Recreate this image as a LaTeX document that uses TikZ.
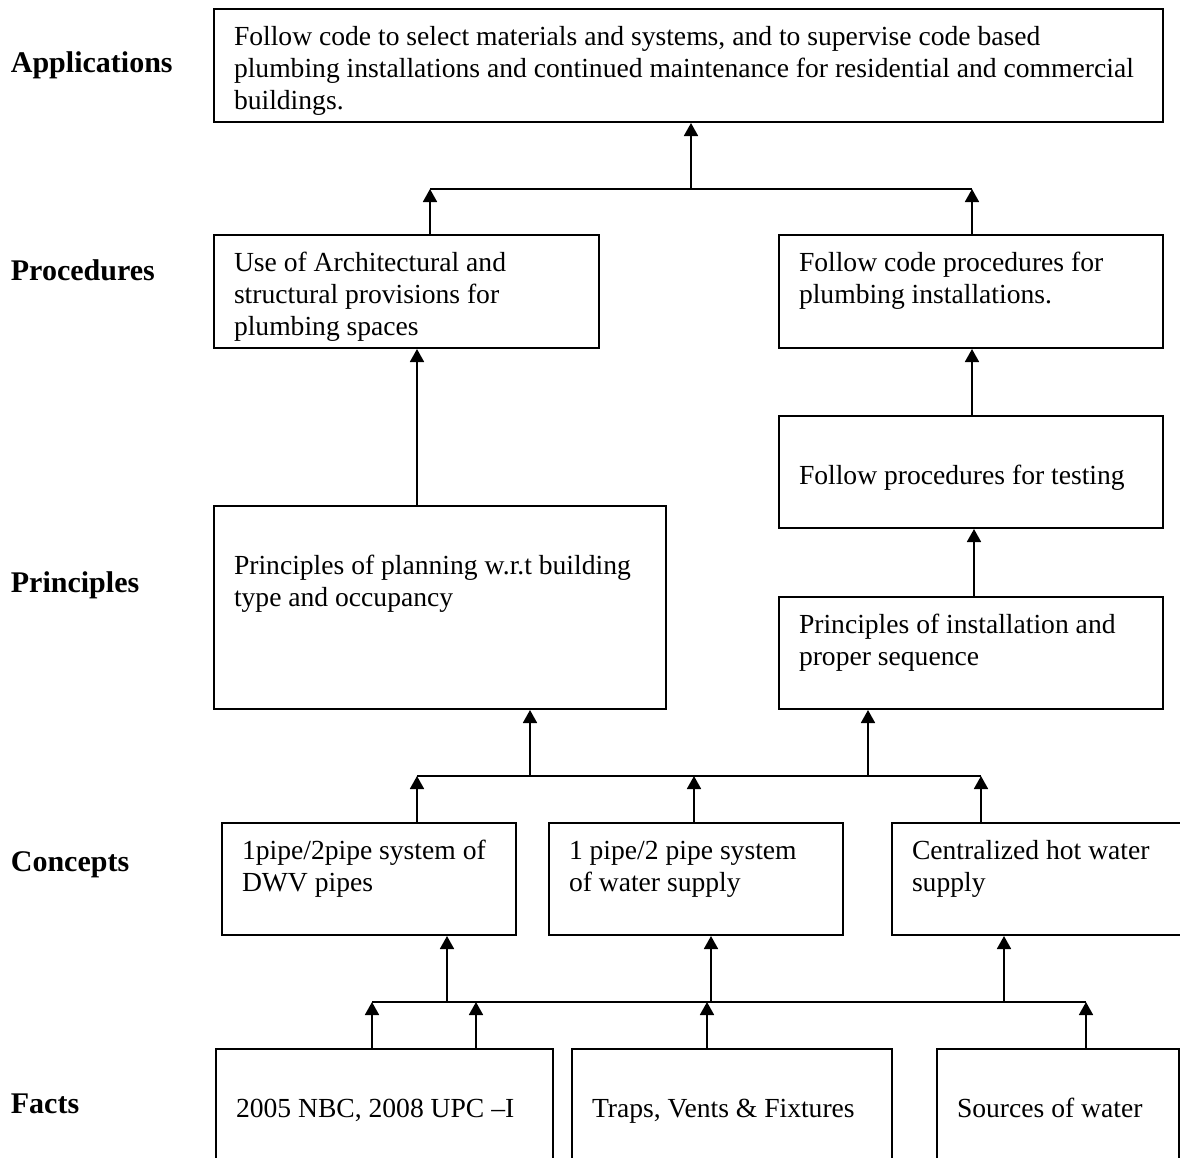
\documentclass[tikz,border=0pt]{standalone}
\usepackage{fontspec}
\setmainfont{Liberation Serif}
\usetikzlibrary{arrows.meta}
\newcommand\bxt[4]{\parbox[c][#2][t]{#1}{\raggedright\leftskip=10pt\relax\fontsize{13.8}{16}\selectfont\rule{0pt}{#3}#4}}
\tikzset{
  box/.style={draw, line width=1pt, inner sep=0pt, anchor=north west},
  lab/.style={font=\fontsize{15}{18}\selectfont\bfseries, inner sep=0pt, anchor=base west},
  arr/.style={line width=0.9pt, -{Triangle[length=6.5pt,width=7pt]}},
  ln/.style={line width=0.9pt}
}
\begin{document}
\begin{tikzpicture}[x=0.5pt,y=-0.5pt]
\useasboundingbox (0,0) rectangle (1180,1158);
\clip (0,0) rectangle (1180,1158);
\fill[white] (0,0) rectangle (1180,1158);
% level labels
\node[lab] (lApp) at (10.5,72) {Applications};
\node[lab] (lProc) at (10.5,280) {Procedures};
\node[lab] (lPrin) at (10.5,592) {Principles};
\node[lab] (lCon) at (10.5,871) {Concepts};
\node[lab] (lFact) at (10.5,1113) {Facts};
% boxes
\node[box] (app) at (213,8) {\bxt{474.5pt}{56.5pt}{18pt}{Follow code to select materials and systems, and to supervise code based\\plumbing installations and continued maintenance for residential and commercial\\buildings.}};
\node[box] (proc1) at (213,234) {\bxt{192.5pt}{56.5pt}{18pt}{Use of Architectural and\\structural provisions for\\plumbing spaces}};
\node[box] (proc2) at (778,234) {\bxt{192pt}{56.5pt}{18pt}{Follow code procedures for\\plumbing installations.}};
\node[box] (prin1) at (213,505) {\bxt{226pt}{101.5pt}{34pt}{Principles of planning w.r.t building\\type and occupancy}};
\node[box] (test) at (778,415) {\bxt{192pt}{56pt}{34pt}{Follow procedures for testing}};
\node[box] (inst) at (778,596) {\bxt{192pt}{56pt}{18pt}{Principles of installation and\\proper sequence}};
\node[box] (con1) at (221,822) {\bxt{147pt}{56pt}{18pt}{1pipe/2pipe system of\\DWV pipes}};
\node[box] (con2) at (548,822) {\bxt{147pt}{56pt}{18pt}{1 pipe/2 pipe system\\of water supply}};
\node[box] (con3) at (891,822) {\bxt{160pt}{56pt}{18pt}{Centralized hot water\\supply}};
\node[box] (f1) at (215,1048) {\bxt{168.5pt}{70pt}{34pt}{2005 NBC, 2008 UPC --I}};
\node[box] (f2) at (571,1048) {\bxt{160pt}{70pt}{34pt}{Traps, Vents \& Fixtures}};
\node[box] (f3) at (936,1048) {\bxt{121pt}{70pt}{34pt}{Sources of water}};
% junction coordinates
\coordinate (jL) at (430,189);
\coordinate (jR) at (972,189);
\coordinate (jM) at (691,189);
\coordinate (k) at (974,560);
\coordinate (c1) at (417,776);
\coordinate (c2) at (694,776);
\coordinate (c3) at (981,776);
\coordinate (p1) at (530,776);
\coordinate (p2) at (868,776);
\coordinate (fa) at (372,1002);
\coordinate (fb) at (476,1002);
\coordinate (fc) at (707,1002);
\coordinate (fd) at (1086,1002);
\coordinate (g1) at (447,1002);
\coordinate (g2) at (711,1002);
\coordinate (g3) at (1004,1002);
% procedures -> applications
\draw[ln] (jL) -- (jR);
\draw[arr] (proc1.north -| jL) -- (jL);
\draw[arr] (proc2.north -| jR) -- (jR);
\draw[arr] (jM) -- (app.south -| jM);
% principles -> procedures
\draw[arr] (prin1.north -| c1) -- (proc1.south -| c1);
\draw[arr] (test.north -| jR) -- (proc2.south -| jR);
\draw[arr] (inst.north -| k) -- (test.south -| k);
% concepts -> principles
\draw[ln] (c1) -- (c3);
\draw[arr] (con1.north -| c1) -- (c1);
\draw[arr] (con2.north -| c2) -- (c2);
\draw[arr] (con3.north -| c3) -- (c3);
\draw[arr] (p1) -- (prin1.south -| p1);
\draw[arr] (p2) -- (inst.south -| p2);
% facts -> concepts
\draw[ln] (fa) -- (fd);
\draw[arr] (f1.north -| fa) -- (fa);
\draw[arr] (f1.north -| fb) -- (fb);
\draw[arr] (f2.north -| fc) -- (fc);
\draw[arr] (f3.north -| fd) -- (fd);
\draw[arr] (g1) -- (con1.south -| g1);
\draw[arr] (g2) -- (con2.south -| g2);
\draw[arr] (g3) -- (con3.south -| g3);
\end{tikzpicture}
\end{document}
